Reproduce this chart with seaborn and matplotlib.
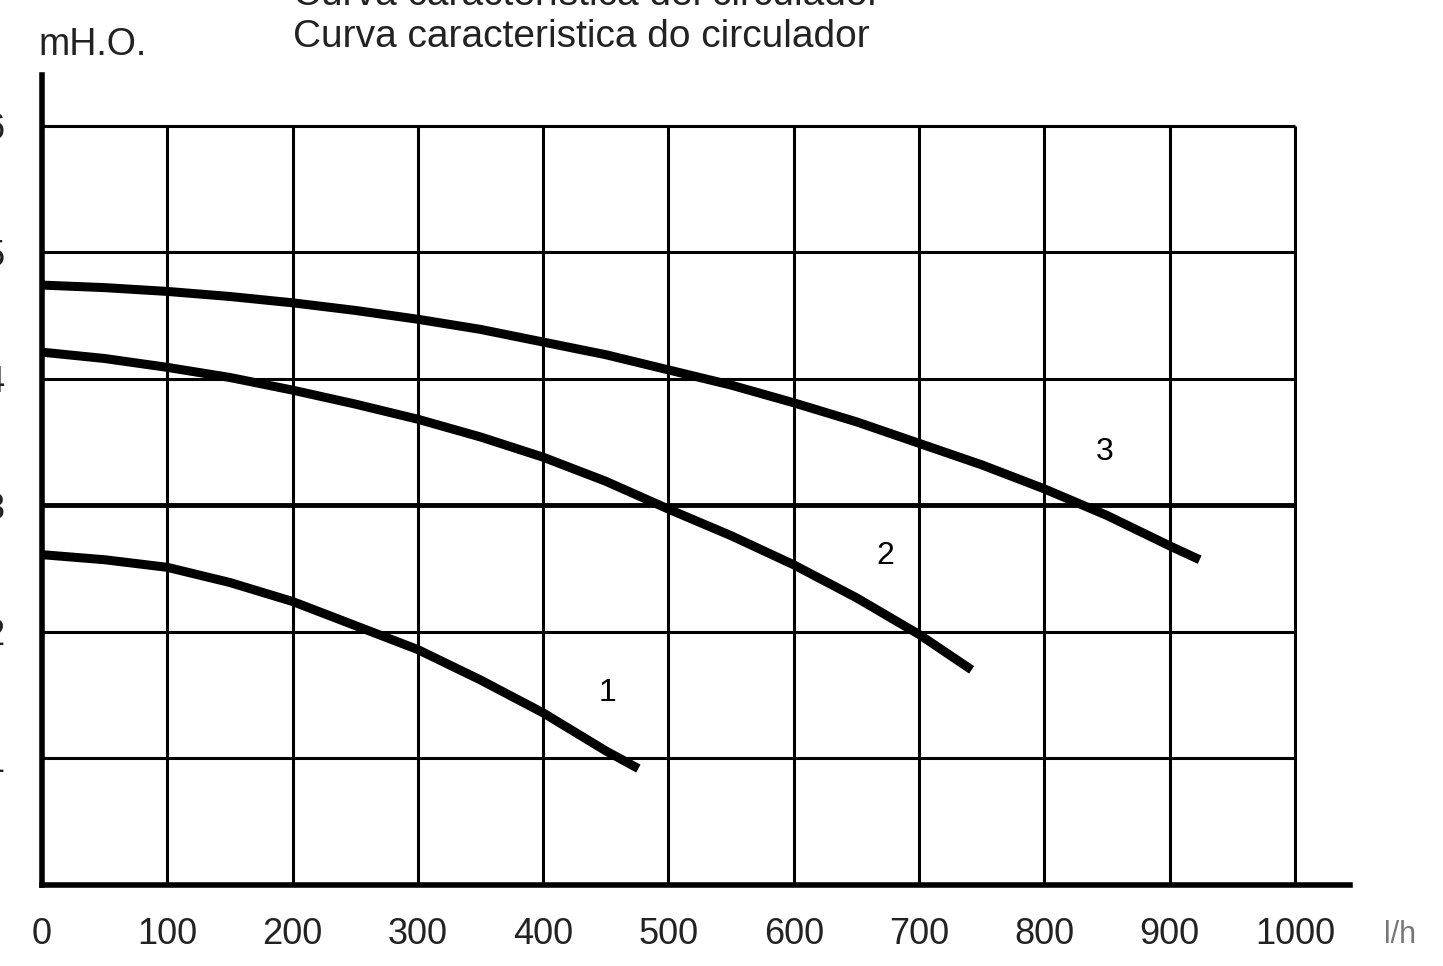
import numpy as np
import pandas as pd
import matplotlib
matplotlib.use("Agg")
import matplotlib.pyplot as plt
import seaborn as sns

# Data
flow_1 = [0, 50, 100, 150, 200, 250, 300, 350, 400, 450, 476]
head_1 = [2.61, 2.57, 2.51, 2.39, 2.24, 2.05, 1.86, 1.62, 1.36, 1.06, 0.92]
flow_2 = [0, 50, 100, 150, 200, 250, 300, 350, 400, 450, 500, 550, 600, 650, 700, 742]
head_2 = [4.21, 4.16, 4.09, 4.01, 3.91, 3.80, 3.68, 3.54, 3.38, 3.19, 2.97, 2.76, 2.53, 2.27, 1.98, 1.70]
flow_3 = [0, 50, 100, 150, 200, 250, 300, 350, 400, 450, 500, 550, 600, 650, 700, 750, 800, 850, 900, 924]
head_3 = [4.74, 4.72, 4.69, 4.65, 4.60, 4.54, 4.47, 4.39, 4.29, 4.19, 4.07, 3.95, 3.81, 3.66, 3.49, 3.32, 3.13, 2.92, 2.68, 2.57]
curve_names = ["1", "2", "3"]
label_pos = [(451, 1.52), (673, 2.60), (848, 3.42)]
x_ticks = [0, 100, 200, 300, 400, 500, 600, 700, 800, 900, 1000]
x_tick_labels = ["0", "100", "200", "300", "400", "500", "600", "700", "800", "900", "1000"]
y_ticks = [1, 2, 3, 4, 5, 6]
y_tick_labels = ["1", "2", "3", "4", "5", "6"]

sns.set_style("white")
plt.rcParams['font.family'] = ['Liberation Sans', 'DejaVu Sans']

fig = plt.figure(figsize=(14.43, 9.66), dpi=100)
ax = fig.add_axes([42/1443, 81/966, (1350-42)/1443, (885-75)/966])

frames = []
for name, f, h in zip(curve_names, [flow_1, flow_2, flow_3], [head_1, head_2, head_3]):
    frames.append(pd.DataFrame({"flow": f, "head": h, "curve": name}))
df = pd.concat(frames, ignore_index=True)

# grid
ax.vlines(x_ticks[1:], 0, 6, colors="black", linewidth=2.2, zorder=1)
ax.hlines(y_ticks, 0, 1000, colors="black", linewidth=2.2, zorder=1)
ax.hlines([3], 0, 1000, colors="black", linewidth=3.5, zorder=1)

sns.lineplot(data=df, x="flow", y="head", units="curve", estimator=None,
             color="black", linewidth=6.5, ax=ax, zorder=3, legend=False,
             solid_capstyle="butt", solid_joinstyle="round")

for name, (lx, ly) in zip(curve_names, label_pos):
    ax.text(lx, ly, name, fontsize=23, ha="center", va="center", color="black")

ax.set_xlim(0, 1044)
ax.set_ylim(0, 6.40)
ax.set_xticks(x_ticks)
ax.set_xticklabels(x_tick_labels, fontsize=26, color="#222222")
ax.set_yticks(y_ticks)
ax.set_yticklabels(y_tick_labels, fontsize=26, color="#222222")
ax.tick_params(axis="x", direction="out", length=11, width=3.5, pad=12, color="black")
ax.tick_params(axis="y", direction="out", length=11, width=3.0, pad=16, color="black")
for s in ["top", "right"]:
    ax.spines[s].set_visible(False)
for s in ["left", "bottom"]:
    ax.spines[s].set_linewidth(4)
    ax.spines[s].set_color("black")
ax.set_xlabel("")
ax.set_ylabel("")

fig.text(293/1443, 1 - 37/966, "Curva caracteristica do circulador", fontsize=28,
         ha="left", va="center", color="#222222")
fig.text(293/1443, 1 - 5/966, "Curva característica del circulador", fontsize=28,
         ha="left", va="baseline", color="#222222")
fig.text(38/1443, 1 - 45/966, "mH.O.", fontsize=27, ha="left", va="center", color="#222222")
fig.text(1400/1443, 1 - 935/966, "l/h", fontsize=22, ha="center", va="center", color="#777777")

fig.savefig("out.png", dpi=100)
